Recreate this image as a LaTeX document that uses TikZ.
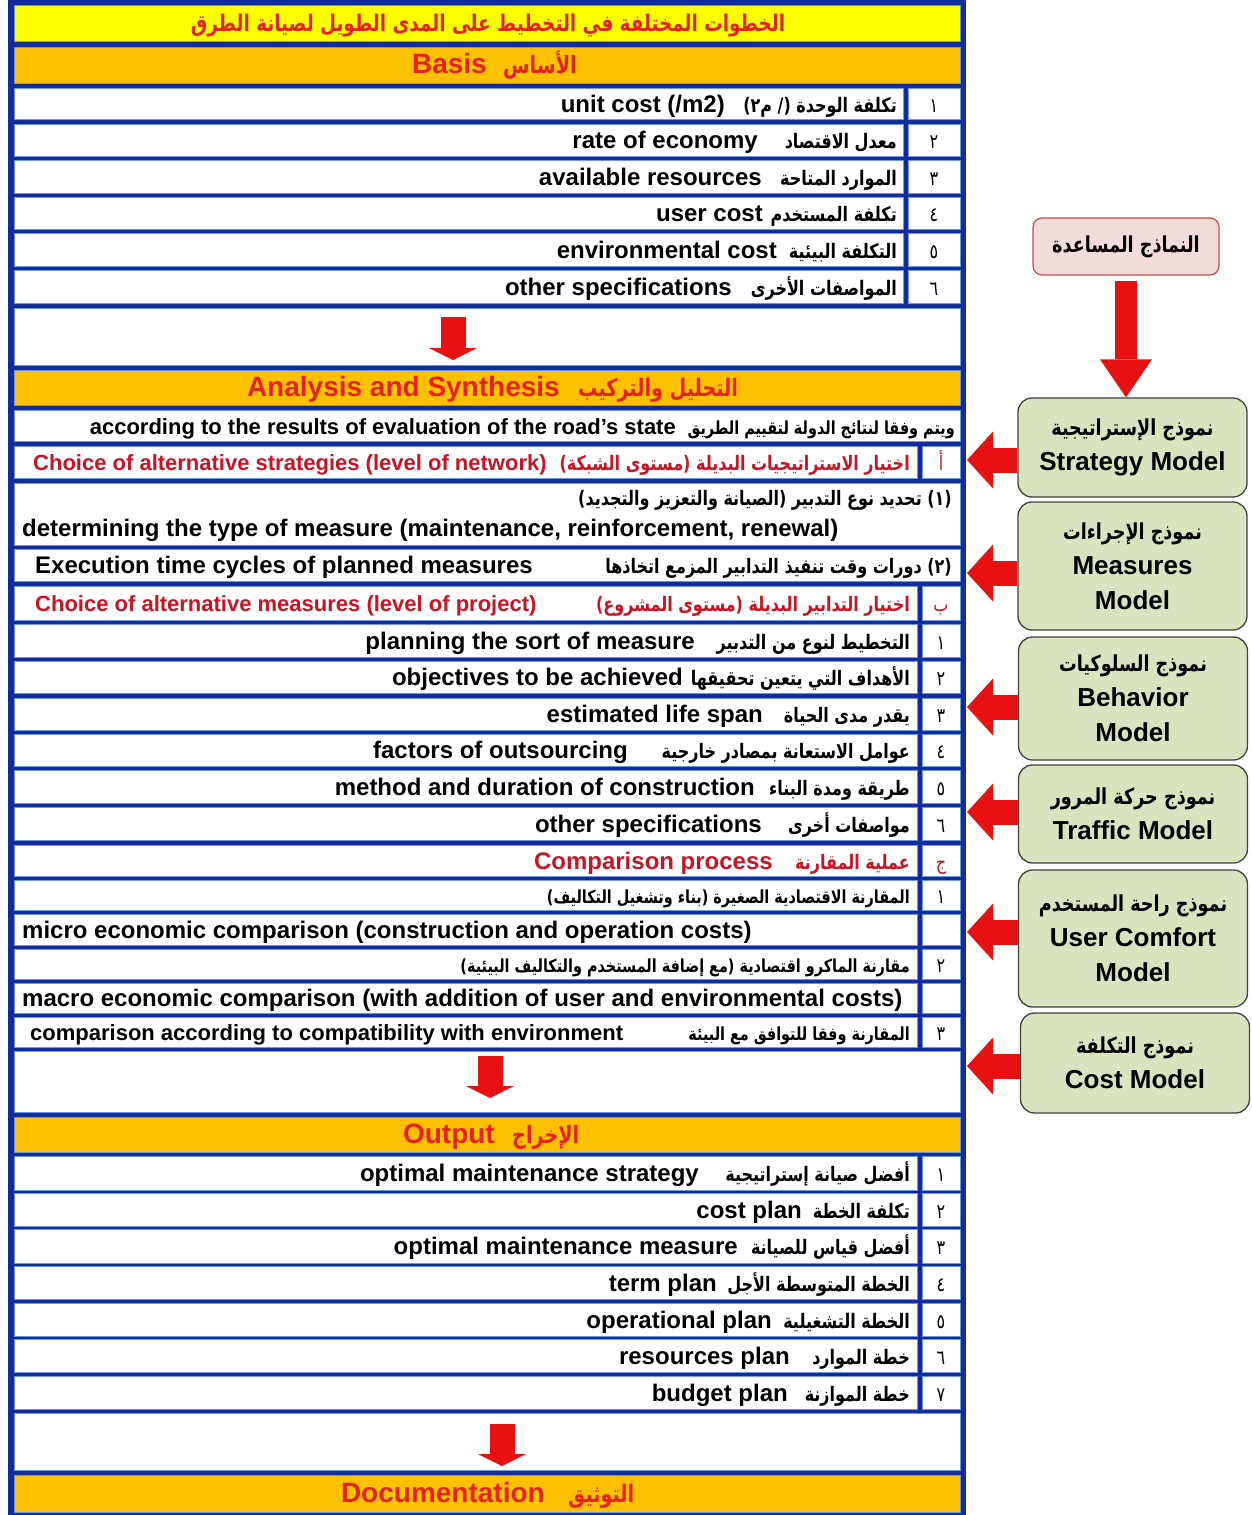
\documentclass[tikz,border=0pt]{standalone}
\usepackage{fontspec}
\setmainfont{Liberation Sans}
\newfontfamily\arf[Script=Arabic, FakeStretch=0.8]{DejaVu Sans}
\TeXXeTstate=1
\usetikzlibrary{positioning,arrows.meta}

\definecolor{tblue}{RGB}{18,45,155}
\definecolor{cline}{RGB}{110,150,220}
\definecolor{tyellow}{RGB}{255,255,0}
\definecolor{torange}{RGB}{255,192,0}
\definecolor{hred}{RGB}{228,35,30}
\definecolor{rred}{RGB}{200,20,35}
\definecolor{mgreen}{RGB}{215,228,189}
\definecolor{mpink}{RGB}{242,220,219}
\definecolor{pinkline}{RGB}{192,80,77}
\definecolor{arrowred}{RGB}{232,17,17}

\tikzset{
  cell/.style={fill=white, draw=cline, line width=0.8pt},
  txt/.style={inner sep=0pt, text height=17pt, text depth=0pt},
  entx/.style={txt, font=\fontsize{24}{28}\selectfont\bfseries},
  ensm/.style={txt, font=\fontsize{22}{26}\selectfont\bfseries},
  enred/.style={txt, text=rred, font=\fontsize{22}{26}\selectfont\bfseries},
  enhead/.style={txt, text=hred, font=\fontsize{28}{32}\selectfont\bfseries},
  artx/.style={txt, font=\arf\fontsize{20}{24}\selectfont\bfseries},
  arsm/.style={txt, font=\arf\fontsize{18}{22}\selectfont\bfseries},
  arred/.style={txt, text=rred, font=\arf\fontsize{20}{24}\selectfont\bfseries},
  arhead/.style={txt, text=hred, font=\arf\fontsize{24}{28}\selectfont\bfseries},
  notx/.style={txt, font=\arf\fontsize{20}{24}\selectfont},
  auxbox/.style={rounded corners=9pt, fill=mpink, draw=pinkline, line width=1.2pt,
    minimum width=186pt, minimum height=57pt, font=\arf\fontsize{22}{26}\selectfont\bfseries},
  model/.style={rounded corners=14pt, fill=mgreen, draw=black!75, line width=1.3pt,
    minimum width=229pt, align=center, font=\fontsize{26}{35}\selectfont\bfseries},
  downarr/.style={draw=arrowred, line width=25pt, -{Triangle[length=12pt, width=48pt, line width=0pt]}},
  leftarr/.style={draw=arrowred, line width=25pt, -{Triangle[length=26pt, width=57pt, line width=0pt]}},
  bigdown/.style={draw=arrowred, line width=22pt, -{Triangle[length=38pt, width=52pt, line width=0pt]}}
}

\begin{document}
\begin{tikzpicture}[x=1pt, y=-1pt]
\useasboundingbox (0,0) rectangle (1252,1515);

% table frame and cells
\fill[tblue] (8,0) rectangle (966,1515);
\draw[cell, fill=tyellow] (14,5) rectangle (960,41);
\foreach \ya/\yb in {47/83, 370/405, 1117/1152, 1475/1512}
  \draw[cell, fill=torange] (14,\ya) rectangle (960,\yb);
\foreach \ya/\yb in {308/365, 410/441, 483/545, 549/581, 1051/1112, 1413/1470}
  \draw[cell] (14,\ya) rectangle (960,\yb);
\foreach \ya/\yb in {88/119, 124/156, 160/193, 197/229, 233/266, 270/303} {
  \draw[cell] (14,\ya) rectangle (903,\yb);
  \draw[cell] (908,\ya) rectangle (960,\yb);
}
\foreach \ya/\yb in {446/478, 586/620, 624/657, 661/693, 698/730, 734/766, 770/803,
    807/840, 845/876, 880/910, 914/945, 949/979, 983/1013, 1017/1047, 1156/1190,
    1193/1226, 1229/1263, 1266/1299, 1303/1336, 1339/1372, 1376/1409} {
  \draw[cell] (14,\ya) rectangle (917,\yb);
  \draw[cell] (922,\ya) rectangle (960,\yb);
}

% title
\node[arhead, font=\arf\fontsize{23}{28}\selectfont\bfseries] (title) at (488,23)
  {\beginR الخطوات المختلفة في التخطيط على المدى الطويل لصيانة الطرق\endR};

% basis
\node[enhead, anchor=east] (basisen) at (487,65) {Basis};
\node[arhead, anchor=west] (basisar) at (503,65) {\beginR الأساس\endR};
\node[artx, anchor=east] (b1a) at (897,103.5) {\beginR تكلفة الوحدة (/ م٢)\endR};
\node[entx, anchor=east] (b1e) at (725,103.5) {unit cost (/m2)};
\node[notx] (b1n) at (934,103.5) {١};
\node[artx, anchor=east] (b2a) at (897,140) {\beginR معدل الاقتصاد\endR};
\node[entx, anchor=east] (b2e) at (758,140) {rate of economy};
\node[notx] (b2n) at (934,140) {٢};
\node[artx, anchor=east] (b3a) at (897,176.5) {\beginR الموارد المتاحة\endR};
\node[entx, anchor=east] (b3e) at (762,176.5) {available resources};
\node[notx] (b3n) at (934,176.5) {٣};
\node[artx, anchor=east] (b4a) at (897,213) {\beginR تكلفة المستخدم\endR};
\node[entx, anchor=east] (b4e) at (763,213) {user cost};
\node[notx] (b4n) at (934,213) {٤};
\node[artx, anchor=east] (b5a) at (897,249.5) {\beginR التكلفة البيئية\endR};
\node[entx, anchor=east] (b5e) at (777,249.5) {environmental cost};
\node[notx] (b5n) at (934,249.5) {٥};
\node[artx, anchor=east] (b6a) at (897,286.5) {\beginR المواصفات الأخرى\endR};
\node[entx, anchor=east] (b6e) at (732,286.5) {other specifications};
\node[notx] (b6n) at (934,286.5) {٦};

% analysis and synthesis
\node[enhead, anchor=east] (anaen) at (560,387.5) {Analysis and Synthesis};
\node[arhead, anchor=west] (anaar) at (578,387.5) {\beginR التحليل والتركيب\endR};
\node[arsm, anchor=east] (s0a) at (955,425.5) {\beginR ويتم وفقا لنتائج الدولة لتقييم الطريق\endR};
\node[ensm, anchor=east] (s0e) at (676,425.5) {according to the results of evaluation of the road’s state};
\node[arred, anchor=east] (s1a) at (910,462) {\beginR اختيار الاستراتيجيات البديلة (مستوى الشبكة)\endR};
\node[enred, anchor=west] (s1e) at (33,462) {Choice of alternative strategies (level of network)};
\node[notx, text=rred] (s1n) at (941,462) {أ};
\node[artx, anchor=east] (s2a) at (952,497) {\beginR (١) تحديد نوع التدبير (الصيانة والتعزيز والتجديد)\endR};
\node[entx, anchor=west] (s2e) at (22,528) {determining the type of measure (maintenance, reinforcement, renewal)};
\node[artx, anchor=east] (s3a) at (952,565) {\beginR (٢) دورات وقت تنفيذ التدابير المزمع اتخاذها\endR};
\node[entx, anchor=west] (s3e) at (35,565) {Execution time cycles of planned measures};
\node[arred, anchor=east] (m0a) at (910,603) {\beginR اختيار التدابير البديلة (مستوى المشروع)\endR};
\node[enred, anchor=west] (m0e) at (35,603) {Choice of alternative measures (level of project)};
\node[notx, text=rred] (m0n) at (941,603) {ب};
\node[artx, anchor=east] (m1a) at (910,640.5) {\beginR التخطيط لنوع من التدبير\endR};
\node[entx, anchor=east] (m1e) at (695,640.5) {planning the sort of measure};
\node[notx] (m1n) at (941,640.5) {١};
\node[artx, anchor=east] (m2a) at (910,677) {\beginR الأهداف التي يتعين تحقيقها\endR};
\node[entx, anchor=east] (m2e) at (683,677) {objectives to be achieved};
\node[notx] (m2n) at (941,677) {٢};
\node[artx, anchor=east] (m3a) at (910,714) {\beginR يقدر مدى الحياة\endR};
\node[entx, anchor=east] (m3e) at (763,714) {estimated life span};
\node[notx] (m3n) at (941,714) {٣};
\node[artx, anchor=east] (m4a) at (910,750) {\beginR عوامل الاستعانة بمصادر خارجية\endR};
\node[entx, anchor=east] (m4e) at (628,750) {factors of outsourcing};
\node[notx] (m4n) at (941,750) {٤};
\node[artx, anchor=east] (m5a) at (910,786.5) {\beginR طريقة ومدة البناء\endR};
\node[entx, anchor=east] (m5e) at (755,786.5) {method and duration of construction};
\node[notx] (m5n) at (941,786.5) {٥};
\node[artx, anchor=east] (m6a) at (910,823.5) {\beginR مواصفات أخرى\endR};
\node[entx, anchor=east] (m6e) at (762,823.5) {other specifications};
\node[notx] (m6n) at (941,823.5) {٦};
\node[arred, anchor=east] (c0a) at (910,860.5) {\beginR عملية المقارنة\endR};
\node[enred, font=\fontsize{24}{28}\selectfont\bfseries, anchor=east] (c0e) at (773,860.5) {Comparison process};
\node[notx, text=rred] (c0n) at (941,860.5) {ج};
\node[arsm, anchor=east] (c1a) at (910,895) {\beginR المقارنة الاقتصادية الصغيرة (بناء وتشغيل التكاليف)\endR};
\node[notx] (c1n) at (941,895) {١};
\node[entx, anchor=west] (c1e) at (22,929.5) {micro economic comparison (construction and operation costs)};
\node[arsm, anchor=east] (c2a) at (910,964) {\beginR مقارنة الماكرو اقتصادية (مع إضافة المستخدم والتكاليف البيئية)\endR};
\node[notx] (c2n) at (941,964) {٢};
\node[entx, anchor=west] (c2e) at (22,998) {macro economic comparison (with addition of user and environmental costs)};
\node[arsm, anchor=east] (c3a) at (910,1032) {\beginR المقارنة وفقا للتوافق مع البيئة\endR};
\node[ensm, anchor=west] (c3e) at (30,1032) {comparison according to compatibility with environment};
\node[notx] (c3n) at (941,1032) {٣};

% output
\node[enhead, anchor=east] (outen) at (495,1134.5) {Output};
\node[arhead, anchor=west] (outar) at (512,1134.5) {\beginR الإخراج\endR};
\node[artx, anchor=east] (o1a) at (910,1173) {\beginR أفضل صيانة إستراتيجية\endR};
\node[entx, anchor=east] (o1e) at (699,1173) {optimal maintenance strategy};
\node[notx] (o1n) at (941,1173) {١};
\node[artx, anchor=east] (o2a) at (910,1209.5) {\beginR تكلفة الخطة\endR};
\node[entx, anchor=east] (o2e) at (802,1209.5) {cost plan};
\node[notx] (o2n) at (941,1209.5) {٢};
\node[artx, anchor=east] (o3a) at (910,1246) {\beginR أفضل قياس للصيانة\endR};
\node[entx, anchor=east] (o3e) at (738,1246) {optimal maintenance measure};
\node[notx] (o3n) at (941,1246) {٣};
\node[artx, anchor=east] (o4a) at (910,1282.5) {\beginR الخطة المتوسطة الأجل\endR};
\node[entx, anchor=east] (o4e) at (717,1282.5) {term plan};
\node[notx] (o4n) at (941,1282.5) {٤};
\node[artx, anchor=east] (o5a) at (910,1319.5) {\beginR الخطة التشغيلية\endR};
\node[entx, anchor=east] (o5e) at (772,1319.5) {operational plan};
\node[notx] (o5n) at (941,1319.5) {٥};
\node[artx, anchor=east] (o6a) at (910,1355.5) {\beginR خطة الموارد\endR};
\node[entx, anchor=east] (o6e) at (790,1355.5) {resources plan};
\node[notx] (o6n) at (941,1355.5) {٦};
\node[artx, anchor=east] (o7a) at (910,1392.5) {\beginR خطة الموازنة\endR};
\node[entx, anchor=east] (o7e) at (788,1392.5) {budget plan};
\node[notx] (o7n) at (941,1392.5) {٧};

% documentation
\node[enhead, anchor=east] (docen) at (545,1493.5) {Documentation};
\node[arhead, anchor=west] (docar) at (568,1493.5) {\beginR التوثيق\endR};

% arrows inside the table
\coordinate (d1s) at (453,317); \coordinate (d1e) at (453,360);
\coordinate (d2s) at (490,1056); \coordinate (d2e) at (490,1098);
\coordinate (d3s) at (502,1424); \coordinate (d3e) at (502,1466);
\draw[downarr] (d1s) -- (d1e);
\draw[downarr] (d2s) -- (d2e);
\draw[downarr] (d3s) -- (d3e);

% helper models
\node[auxbox] (aux) at (1126,246.5) {\beginR النماذج المساعدة\endR};
\node[model, minimum height=99pt] (strat) at (1132.5,447.5)
  {{\arf\fontsize{22}{35}\selectfont\beginR نموذج الإستراتيجية\endR}\\Strategy Model};
\node[model, minimum height=128pt] (meas) at (1132.5,566)
  {{\arf\fontsize{22}{35}\selectfont\beginR نموذج الإجراءات\endR}\\Measures\\Model};
\node[model, minimum height=123pt] (behav) at (1133,698.5)
  {{\arf\fontsize{22}{35}\selectfont\beginR نموذج السلوكيات\endR}\\Behavior\\Model};
\node[model, minimum height=98pt] (traf) at (1133,814)
  {{\arf\fontsize{22}{35}\selectfont\beginR نموذج حركة المرور\endR}\\Traffic Model};
\node[model, minimum height=137pt] (comf) at (1133,938.5)
  {{\arf\fontsize{22}{35}\selectfont\beginR نموذج راحة المستخدم\endR}\\User Comfort\\Model};
\node[model, minimum height=100pt] (cost) at (1135,1063)
  {{\arf\fontsize{22}{35}\selectfont\beginR نموذج التكلفة\endR}\\Cost Model};

\draw[bigdown] ([yshift=-5pt]aux.south) -- (aux.south |- strat.north);
\coordinate (l1) at (967,460);
\coordinate (l2) at (967,573);
\coordinate (l3) at (967,707);
\coordinate (l4) at (967,812);
\coordinate (l5) at (967,932);
\coordinate (l6) at (967,1066);
\draw[leftarr] (strat.west |- l1) -- (l1);
\draw[leftarr] (meas.west |- l2) -- (l2);
\draw[leftarr] (behav.west |- l3) -- (l3);
\draw[leftarr] (traf.west |- l4) -- (l4);
\draw[leftarr] (comf.west |- l5) -- (l5);
\draw[leftarr] (cost.west |- l6) -- (l6);
\end{tikzpicture}
\end{document}
